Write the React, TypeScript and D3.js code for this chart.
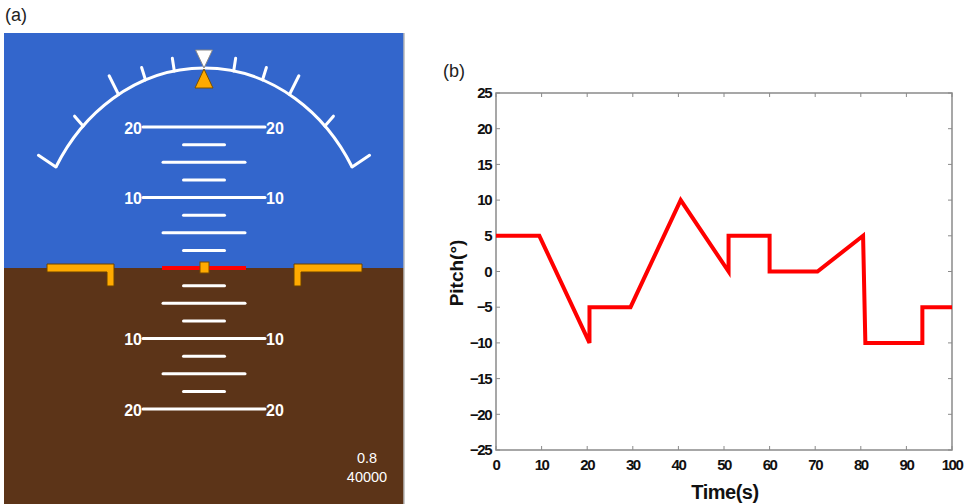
import React from 'react'
import * as d3 from 'd3'

// panel (b) data: pitch command over time
const timeS = [0, 9.5, 20.5, 20.5, 29.5, 40.5, 51, 51, 60, 60, 70.5, 80.5, 81, 93.5, 93.5, 100]
const pitchDeg = [5, 5, -10, -5, -5, 10, 0, 5, 5, 0, 0, 5, -10, -10, -5, -5]
const xTickValues = [0, 10, 20, 30, 40, 50, 60, 70, 80, 90, 100]
const yTickValues = [-25, -20, -15, -10, -5, 0, 5, 10, 15, 20, 25]

// panel (a) data: attitude indicator
const ladderPitch = [-20, -17.5, -15, -12.5, -10, -7.5, -5, -2.5, 2.5, 5, 7.5, 10, 12.5, 15, 17.5, 20]
const ladderLabels = [-20, -10, 10, 20]
const rollTicks = [-60, -45, -30, -20, -10, 10, 20, 30, 45, 60]
const readouts = ['0.8', '40000']

const SKY = '#3366cc'
const GROUND = '#5c3418'
const ORANGE = '#ffaa00'
const FONT = '"Liberation Sans", Arial, sans-serif'

const App = () => {
  // attitude indicator geometry
  const cx = 204
  const py = d3.scaleLinear().domain([-20, 20]).range([409, 127])
  const horizonY = py(0)
  const arcCy = 266, rx = 171, ry = 198
  const rollPt = (a: number, extra: number) => {
    const r = (a * Math.PI) / 180
    const dx = rx * Math.sin(r), dy = -ry * Math.cos(r)
    const n = Math.sqrt(dx * dx + dy * dy)
    return [cx + dx + (dx / n) * extra, arcCy + dy + (dy / n) * extra]
  }
  const [ax0, ay0] = rollPt(-60, 0)
  const [ax1, ay1] = rollPt(60, 0)
  const arcPath = `M${ax0},${ay0} A${rx},${ry} 0 0 1 ${ax1},${ay1}`
  const ladderWidth = (p: number) => (p % 10 === 0 ? 122 : p % 5 === 0 ? 82 : 41)

  // plot geometry
  const sx = d3.scaleLinear().domain([0, 100]).range([496, 952])
  const sy = d3.scaleLinear().domain([-25, 25]).range([450, 93])
  const line = d3.line<number>().x((_, i) => sx(timeS[i])).y(d => sy(d))
  const fmt = (v: number) => (v < 0 ? '\u2212' + Math.abs(v) : String(v))
  const [x0, x1] = sx.range()
  const [y0, y1] = sy.range()

  return (
    <svg width={966} height={504} style={{ position: 'absolute', left: 0, top: 0, background: '#fff' }}>
      {/* (a) attitude indicator */}
      <text x={5} y={21} fontFamily={FONT} fontSize={18} fill="#222">(a)</text>
      <rect x={4} y={33} width={400} height={horizonY - 33} fill={SKY} />
      <rect x={4} y={horizonY} width={400} height={504 - horizonY} fill={GROUND} />
      <line x1={404} x2={404} y1={33} y2={504} stroke="#b8b8b8" strokeWidth={1.5} />

      <path d={arcPath} fill="none" stroke="#fff" strokeWidth={3} />
      {rollTicks.map(a => {
        const long = Math.abs(a) === 30 || Math.abs(a) === 60
        const [bx, by] = rollPt(a, 0)
        const [tx, ty] = rollPt(a, long ? 21 : 13)
        return <line key={a} x1={bx} y1={by} x2={tx} y2={ty} stroke="#fff" strokeWidth={3} strokeLinecap="round" />
      })}
      <path d={`M${cx - 8.5},50 L${cx + 8.5},50 L${cx},68 Z`} fill="#fff" stroke="#888" strokeWidth={1} />
      <path d={`M${cx},69 L${cx + 9},88 L${cx - 9},88 Z`} fill={ORANGE} stroke="#7a5000" strokeWidth={1} />

      {ladderPitch.map(p => {
        const w = ladderWidth(p)
        return <line key={p} x1={cx - w / 2} x2={cx + w / 2} y1={py(p)} y2={py(p)} stroke="#fff" strokeWidth={3} strokeLinecap="round" />
      })}
      {ladderLabels.map(p => (
        <g key={p} fontFamily={FONT} fontSize={16} fontWeight="bold" fill="#fff" dominantBaseline="central">
          <text x={cx - 62} y={py(p) + 1} textAnchor="end">{Math.abs(p)}</text>
          <text x={cx + 62} y={py(p) + 1} textAnchor="start">{Math.abs(p)}</text>
        </g>
      ))}

      <line x1={162} x2={246} y1={horizonY} y2={horizonY} stroke="#ff0000" strokeWidth={4} />
      <rect x={cx - 4} y={horizonY - 6} width={9} height={11} fill={ORANGE} stroke="#7a4a00" strokeWidth={1} />
      <path d={`M47,${horizonY - 4} H114 V${horizonY + 18} H107 V${horizonY + 4} H47 Z`} fill={ORANGE} stroke="#6a4000" strokeWidth={1} />
      <path d={`M294,${horizonY - 4} H362 V${horizonY + 4} H301 V${horizonY + 18} H294 Z`} fill={ORANGE} stroke="#6a4000" strokeWidth={1} />

      {readouts.map((t, i) => (
        <text key={t} x={367} y={463 + i * 19} textAnchor="middle" fontFamily={FONT} fontSize={14.5} fill="#fff">{t}</text>
      ))}

      {/* (b) pitch vs time */}
      <text x={443} y={77} fontFamily={FONT} fontSize={18} fill="#222">(b)</text>
      <rect x={x0} y={y1} width={x1 - x0} height={y0 - y1} fill="#fff" stroke="#8a8a8a" strokeWidth={1.5} />
      {xTickValues.map(v => (
        <g key={v}>
          <line x1={sx(v)} x2={sx(v)} y1={y0} y2={y0 - 4} stroke="#8a8a8a" />
          <line x1={sx(v)} x2={sx(v)} y1={y1} y2={y1 + 4} stroke="#8a8a8a" />
          <text x={sx(v)} y={y0 + 20} textAnchor="middle" fontFamily={FONT} fontSize={15} fontWeight="bold" letterSpacing={-1.5} fill="#111">{v}</text>
        </g>
      ))}
      {yTickValues.map(v => (
        <g key={v}>
          <line x1={x0} x2={x0 + 4} y1={sy(v)} y2={sy(v)} stroke="#8a8a8a" />
          <line x1={x1} x2={x1 - 4} y1={sy(v)} y2={sy(v)} stroke="#8a8a8a" />
          <text x={491} y={sy(v)} dy="0.35em" textAnchor="end" fontFamily={FONT} fontSize={15} fontWeight="bold" letterSpacing={-1.5} fill="#111">{fmt(v)}</text>
        </g>
      ))}
      <path d={line(pitchDeg) || ''} fill="none" stroke="#ff0000" strokeWidth={4} strokeLinejoin="miter" />
      <text x={725} y={499} textAnchor="middle" fontFamily={FONT} fontSize={20} fontWeight="bold" letterSpacing={-0.5} fill="#111">Time(s)</text>
      <text transform={`translate(463,273) rotate(-90)`} textAnchor="middle" fontFamily={FONT} fontSize={19} fontWeight="bold" fill="#111">Pitch(°)</text>
    </svg>
  )
}

export default App
